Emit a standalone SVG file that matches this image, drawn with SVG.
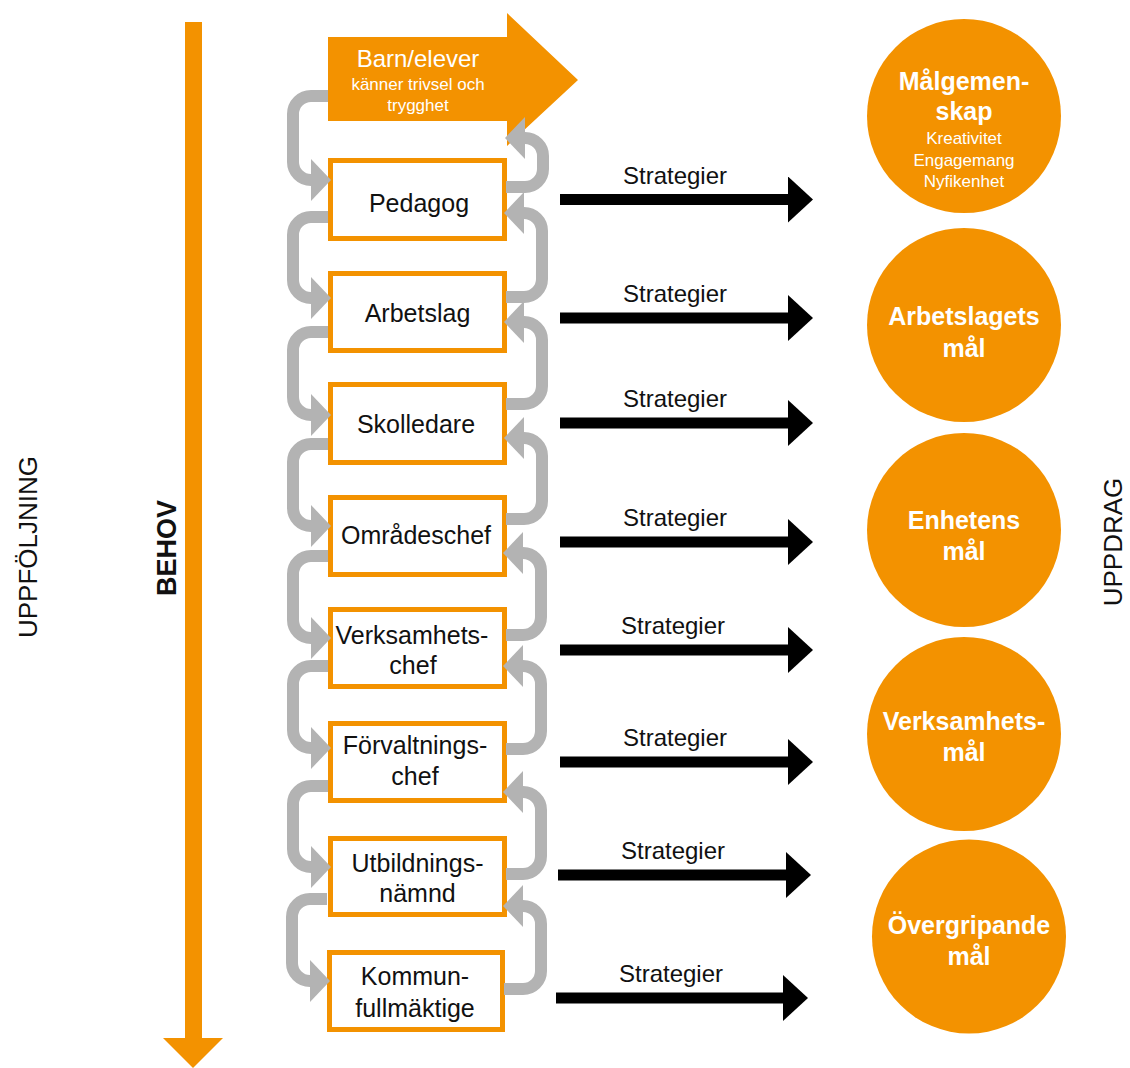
<svg xmlns="http://www.w3.org/2000/svg" width="1130" height="1068" viewBox="0 0 1130 1068">
<defs>
<style>
text{font-family:"Liberation Sans",Arial,sans-serif;}
.box{fill:#fff;stroke:#F39200;stroke-width:5;}
.bt{font-size:25px;fill:#111;text-anchor:middle;}
.circ{fill:#F39200;}
.ct{font-size:25px;font-weight:bold;fill:#fff;text-anchor:middle;}
.cs{font-size:17px;fill:#fff;text-anchor:middle;}
.gl{fill:none;stroke:#B3B3B3;stroke-width:12;marker-end:url(#ga);}
.bl{fill:none;stroke:#000;stroke-width:11;marker-end:url(#ba);}
.st{font-size:24px;fill:#111;text-anchor:middle;}
.side{font-size:26px;fill:#111;text-anchor:middle;}
</style>
<marker id="ga" markerUnits="userSpaceOnUse" viewBox="0 0 20 42" refX="0" refY="21" markerWidth="20" markerHeight="42" orient="auto">
<path d="M0,0 L20,21 L0,42 Z" fill="#B3B3B3"/>
</marker>
<marker id="ba" markerUnits="userSpaceOnUse" viewBox="0 0 25 46" refX="0" refY="23" markerWidth="25" markerHeight="46" orient="auto">
<path d="M0,0 L25,23 L0,46 Z" fill="#000"/>
</marker>
</defs>
<rect width="1130" height="1068" fill="#fff"/>

<g id="side-labels">
<text class="side" transform="translate(37,547) rotate(-90)">UPPFÖLJNING</text>
<text class="side" transform="translate(1122,542) rotate(-90)">UPPDRAG</text>
</g>

<g id="behov">
<rect x="185" y="22" width="17" height="1017" fill="#F39200"/>
<polygon points="163,1038 223,1038 193,1068" fill="#F39200"/>
<text transform="translate(176,548) rotate(-90)" style="font-size:27px;font-weight:bold;fill:#111;text-anchor:middle">BEHOV</text>
</g>

<g id="nodes">
<g id="barn-elever">
<polygon points="328,37 507,37 507,13 578,80 507,146 507,121 328,121" fill="#F39200"/>
<text x="418" y="67" style="font-size:24px;fill:#fff;text-anchor:middle">Barn/elever</text>
<text x="418" y="90" style="font-size:17px;fill:#fff;text-anchor:middle">känner trivsel och</text>
<text x="418" y="111" style="font-size:17px;fill:#fff;text-anchor:middle">trygghet</text>
</g>
<g id="pedagog"><rect class="box" x="330.5" y="160.5" width="174" height="78"/><text class="bt" x="419" y="212">Pedagog</text></g>
<g id="arbetslag"><rect class="box" x="330.5" y="273.5" width="174" height="77"/><text class="bt" x="417.5" y="321.5">Arbetslag</text></g>
<g id="skolledare"><rect class="box" x="330.5" y="384.5" width="174" height="78"/><text class="bt" x="416" y="432.5">Skolledare</text></g>
<g id="omradeschef"><rect class="box" x="330.5" y="497.5" width="174" height="77"/><text class="bt" x="416" y="544">Områdeschef</text></g>
<g id="verksamhetschef"><rect class="box" x="330.5" y="609.5" width="174" height="77"/><text class="bt" x="412" y="644">Verksamhets-</text><text class="bt" x="413" y="673.5">chef</text></g>
<g id="forvaltningschef"><rect class="box" x="330.5" y="723.5" width="174" height="77"/><text class="bt" x="415" y="754">Förvaltnings-</text><text class="bt" x="415" y="785">chef</text></g>
<g id="utbildningsnamnd"><rect class="box" x="330.5" y="838.5" width="174" height="76"/><text class="bt" x="417.5" y="872">Utbildnings-</text><text class="bt" x="417.5" y="902">nämnd</text></g>
<g id="kommunfullmaktige"><rect class="box" x="329.5" y="952.5" width="173" height="77"/><text class="bt" x="415" y="985">Kommun-</text><text class="bt" x="415" y="1016.5">fullmäktige</text></g>

<g id="malgemenskap"><circle class="circ" cx="964" cy="116" r="97"/>
<text class="ct" x="964" y="90">Målgemen-</text><text class="ct" x="964" y="120">skap</text>
<text class="cs" x="964" y="143.5">Kreativitet</text><text class="cs" x="964" y="166">Engagemang</text><text class="cs" x="964" y="186.5">Nyfikenhet</text></g>
<g id="arbetslagets-mal"><circle class="circ" cx="964" cy="325" r="97"/><text class="ct" x="964" y="325">Arbetslagets</text><text class="ct" x="964" y="356.5">mål</text></g>
<g id="enhetens-mal"><circle class="circ" cx="964" cy="530" r="97"/><text class="ct" x="964" y="528.5">Enhetens</text><text class="ct" x="964" y="560">mål</text></g>
<g id="verksamhetsmal"><circle class="circ" cx="964" cy="734" r="97"/><text class="ct" x="964" y="729.5">Verksamhets-</text><text class="ct" x="964" y="761">mål</text></g>
<g id="overgripande-mal"><circle class="circ" cx="969" cy="936.5" r="97"/><text class="ct" x="969" y="933.5">Övergripande</text><text class="ct" x="969" y="965">mål</text></g>
</g>

<g id="connectors">
<path class="gl" d="M328,96 H311 A18,18 0 0 0 293,114 V162 A18,18 0 0 0 311,180"/>
<path class="gl" d="M328,217 H311 A18,18 0 0 0 293,235 V280 A18,18 0 0 0 311,298"/>
<path class="gl" d="M328,332 H311 A18,18 0 0 0 293,350 V397 A18,18 0 0 0 311,415"/>
<path class="gl" d="M328,444 H311 A18,18 0 0 0 293,462 V508 A18,18 0 0 0 311,526"/>
<path class="gl" d="M328,556 H311 A18,18 0 0 0 293,574 V620 A18,18 0 0 0 311,638"/>
<path class="gl" d="M328,666 H311 A18,18 0 0 0 293,684 V730 A18,18 0 0 0 311,748"/>
<path class="gl" d="M328,786 H311 A18,18 0 0 0 293,804 V849 A18,18 0 0 0 311,867"/>
<path class="gl" d="M327,899 H310 A18,18 0 0 0 292,917 V963 A18,18 0 0 0 310,981"/>

<path class="gl" d="M506,187 H525 A18,18 0 0 0 543,169 V156 A18,18 0 0 0 525,138"/>
<path class="gl" d="M506,297 H524 A18,18 0 0 0 542,279 V231 A18,18 0 0 0 524,213"/>
<path class="gl" d="M506,404 H524 A18,18 0 0 0 542,386 V340 A18,18 0 0 0 524,322"/>
<path class="gl" d="M506,519 H524 A18,18 0 0 0 542,501 V456 A18,18 0 0 0 524,438"/>
<path class="gl" d="M506,635 H523 A18,18 0 0 0 541,617 V571 A18,18 0 0 0 523,553"/>
<path class="gl" d="M506,749 H523 A18,18 0 0 0 541,731 V684 A18,18 0 0 0 523,666"/>
<path class="gl" d="M506,874 H523 A18,18 0 0 0 541,856 V810 A18,18 0 0 0 523,792"/>
<path class="gl" d="M504,989 H523 A18,18 0 0 0 541,971 V924 A18,18 0 0 0 523,906"/>

<path class="bl" d="M560,199.5 H788"/>
<path class="bl" d="M560,318 H788"/>
<path class="bl" d="M560,423 H788"/>
<path class="bl" d="M560,542 H788"/>
<path class="bl" d="M560,650 H788"/>
<path class="bl" d="M560,762 H788"/>
<path class="bl" d="M558,875 H786"/>
<path class="bl" d="M556,998 H783"/>
<text class="st" x="675" y="183.5">Strategier</text>
<text class="st" x="675" y="302">Strategier</text>
<text class="st" x="675" y="407">Strategier</text>
<text class="st" x="675" y="526">Strategier</text>
<text class="st" x="673" y="634">Strategier</text>
<text class="st" x="675" y="746">Strategier</text>
<text class="st" x="673" y="859">Strategier</text>
<text class="st" x="671" y="982">Strategier</text>
</g>
</svg>
